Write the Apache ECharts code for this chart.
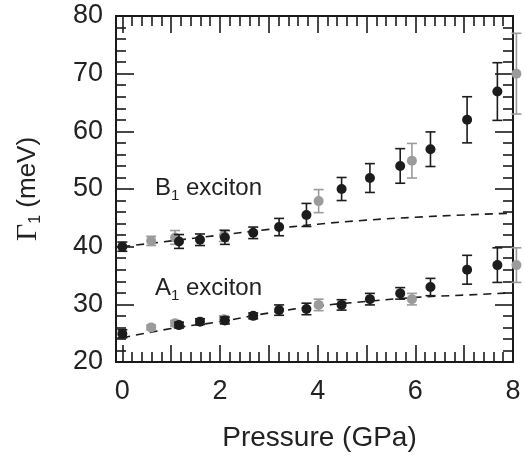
<!DOCTYPE html>
<html><head><meta charset="utf-8">
<script src="https://cdn.jsdelivr.net/npm/echarts@6/dist/echarts.min.js"></script>
<style>html,body{margin:0;padding:0;background:#fff}#c{width:525px;height:457px}</style>
</head><body><div id="c"></div>
<script>
// ---- data ----
const xMajorTicks = [0, 1, 2, 3, 4, 5, 6, 7, 8];
const xTickLabels = [0, 2, 4, 6, 8];
const yTickLabels = [20, 30, 40, 50, 60, 70, 80];

const bBlackP   = [0, 1.16, 1.59, 2.10, 2.68, 3.21, 3.77, 4.49, 5.07, 5.69, 6.31, 7.06, 7.68];
const bBlackG   = [40.0, 40.9, 41.2, 41.6, 42.4, 43.4, 45.5, 50.0, 51.9, 54.0, 56.9, 62.0, 66.9];
const bBlackErr = [0.8, 1.2, 1.0, 1.2, 1.0, 1.5, 2.0, 2.0, 2.5, 3.0, 3.0, 4.0, 5.0];

const bGreyP   = [0.59, 1.08, 2.08, 4.02, 5.93, 8.07];
const bGreyG   = [41.0, 41.6, 41.9, 47.9, 54.9, 70.0];
const bGreyErr = [0.8, 1.2, 1.0, 2.0, 3.0, 7.0];

const aBlackP   = [0, 1.16, 1.59, 2.10, 2.68, 3.21, 3.77, 4.49, 5.07, 5.69, 6.31, 7.06, 7.68];
const aBlackG   = [24.9, 26.4, 27.0, 27.2, 28.0, 29.0, 29.2, 29.9, 30.9, 31.9, 33.0, 36.0, 36.8];
const aBlackErr = [0.7, 0.5, 0.5, 0.6, 0.5, 0.9, 1.0, 0.9, 1.0, 1.0, 1.5, 2.5, 3.0];

const aGreyP   = [0.59, 1.08, 2.08, 4.02, 5.93, 8.07];
const aGreyG   = [26.0, 26.7, 27.4, 29.9, 30.9, 36.8];
const aGreyErr = [0.4, 0.5, 0.6, 1.0, 1.0, 3.0];

const fitP = [0, 1, 2, 3, 4, 5, 6, 7, 8];
const fitB = [40.0, 41.0, 42.0, 43.0, 43.9, 44.6, 45.1, 45.5, 45.8];
const fitA = [24.2, 25.8, 27.0, 28.5, 29.7, 30.5, 31.2, 31.6, 32.0];

// ---- build ----
const xMinorTicks = [];
for (let i = 1; i < 40; i++) { if (i % 5 !== 0) xMinorTicks.push(i / 5); }

const BLACK = '#1c1c1c', GREY = '#9b9b9b', AX = '#1a1a1a';
const FONT = 'Liberation Sans';
const zip = (p, g, e) => p.map((x, i) => e ? [x, g[i], e[i]] : [x, g[i]]);

function errRender(color) {
  return function (params, api) {
    const x = api.value(0), y = api.value(1), e = api.value(2);
    const t = api.coord([x, y + e]), b = api.coord([x, y - e]);
    const hw = 5, st = { stroke: color, lineWidth: 1.6 };
    return { type: 'group', children: [
      { type: 'line', shape: { x1: t[0], y1: t[1], x2: b[0], y2: b[1] }, style: st },
      { type: 'line', shape: { x1: t[0] - hw, y1: t[1], x2: t[0] + hw, y2: t[1] }, style: st },
      { type: 'line', shape: { x1: b[0] - hw, y1: b[1], x2: b[0] + hw, y2: b[1] }, style: st }
    ]};
  };
}
function errSeries(p, g, e, color) {
  return { type: 'custom', renderItem: errRender(color), data: zip(p, g, e),
    encode: { x: 0, y: [1, 2] }, clip: false, z: color === GREY ? 3 : 5, silent: true };
}
function ptSeries(p, g, color) {
  return { type: 'scatter', data: zip(p, g), symbol: 'circle', symbolSize: 10,
    itemStyle: { color: color, opacity: 1 }, clip: false, z: color === GREY ? 4 : 6, silent: true };
}
function fitSeries(g) {
  return { type: 'line', data: zip(fitP, g), smooth: true, symbol: 'none', z: 2,
    lineStyle: { color: BLACK, width: 1.6, type: [8, 6] }, silent: true };
}

const axLine = { show: true, onZero: false, lineStyle: { color: AX, width: 2 } };
function xAx(pos, ticks, len, labels, name) {
  const a = {
    type: 'value', position: pos, min: -0.13, max: 8,
    axisLine: axLine,
    axisTick: { show: true, inside: true, length: len, customValues: ticks, lineStyle: { color: AX, width: 1.6 } },
    axisLabel: labels ? { show: true, customValues: labels, margin: 16, color: '#222', fontSize: 27, fontFamily: FONT }
                      : { show: false },
    splitLine: { show: false }
  };
  if (name) {
    a.name = name; a.nameLocation = 'middle'; a.nameGap = 62;
    a.nameTextStyle = { color: '#222', fontSize: 28, fontFamily: FONT, padding: [0, 0, 0, 10] };
  }
  return a;
}
function yAx(pos, labels) {
  const a = {
    type: 'value', position: pos, min: 20, max: 80, interval: 10,
    axisLine: axLine,
    axisTick: { show: true, inside: true, length: 18, lineStyle: { color: AX, width: 1.6 } },
    minorTick: { show: true, splitNumber: 5, length: 10, lineStyle: { color: AX, width: 1.6 } },
    axisLabel: labels ? { show: true, margin: 13, color: '#222', fontSize: 27, fontFamily: FONT,
      customValues: yTickLabels } : { show: false },
    splitLine: { show: false }
  };
  if (labels) {
    a.name = '{g|\u0393}{s|1}{n| (meV)}';
    a.nameLocation = 'middle'; a.nameRotate = 90; a.nameGap = 72;
    a.nameTextStyle = { color: '#222', rich: {
      g: { fontFamily: 'Liberation Serif', fontSize: 30, color: '#222', lineHeight: 32 },
      s: { fontFamily: FONT, fontSize: 16, color: '#222', verticalAlign: 'bottom', lineHeight: 16 },
      n: { fontFamily: FONT, fontSize: 26, color: '#222', lineHeight: 32 }
    }};
  }
  return a;
}

const chart = echarts.init(document.getElementById('c'), null, { renderer: 'canvas' });
chart.setOption({
  animation: false,
  backgroundColor: '#fff',
  grid: { left: 116, right: 12, top: 16, bottom: 95, containLabel: false },
  xAxis: [
    xAx('bottom', xMajorTicks, 17, xTickLabels, 'Pressure (GPa)'),
    xAx('bottom', xMinorTicks, 10, null),
    xAx('top', xMajorTicks, 17, null),
    xAx('top', xMinorTicks, 10, null)
  ],
  yAxis: [ yAx('left', true), yAx('right', false) ],
  graphic: [
    { type: 'text', left: 155, top: 176, silent: true, style: {
      text: '{m|B}{s|1}{m| exciton}', fill: '#222',
      rich: { m: { fontFamily: FONT, fontSize: 24, lineHeight: 30, fill: '#222' },
              s: { fontFamily: FONT, fontSize: 15, lineHeight: 15, verticalAlign: 'bottom', fill: '#222' } } } },
    { type: 'text', left: 155, top: 276, silent: true, style: {
      text: '{m|A}{s|1}{m| exciton}', fill: '#222',
      rich: { m: { fontFamily: FONT, fontSize: 24, lineHeight: 30, fill: '#222' },
              s: { fontFamily: FONT, fontSize: 15, lineHeight: 15, verticalAlign: 'bottom', fill: '#222' } } } }
  ],
  series: [
    fitSeries(fitB), fitSeries(fitA),
    errSeries(bGreyP, bGreyG, bGreyErr, GREY), errSeries(aGreyP, aGreyG, aGreyErr, GREY),
    ptSeries(bGreyP, bGreyG, GREY), ptSeries(aGreyP, aGreyG, GREY),
    errSeries(bBlackP, bBlackG, bBlackErr, BLACK), errSeries(aBlackP, aBlackG, aBlackErr, BLACK),
    ptSeries(bBlackP, bBlackG, BLACK), ptSeries(aBlackP, aBlackG, BLACK)
  ]
});
</script></body></html>
